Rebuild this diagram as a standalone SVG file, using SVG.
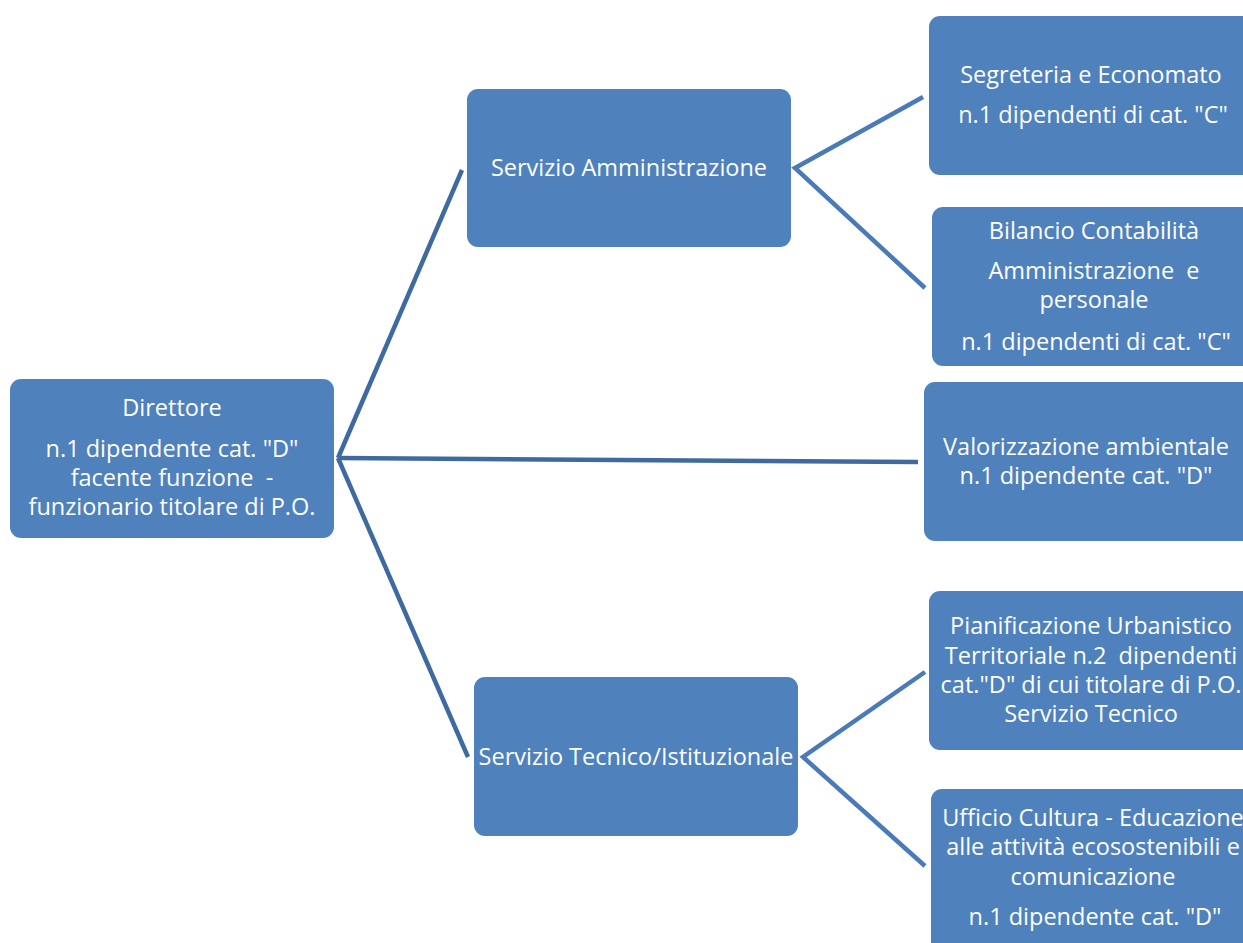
<svg xmlns="http://www.w3.org/2000/svg" width="1243" height="943" viewBox="0 0 1243 943">
<style>
.box{fill:#4f81bd;}
.t{font-family:"Open Sans","Liberation Sans",sans-serif;font-size:23.5px;fill:#ffffff;text-anchor:middle;}
.c1{stroke:#3f6a9f;stroke-width:4.5;fill:none;}
.c2{stroke:#4a7ab7;stroke-width:4.5;fill:none;}
</style>
<rect width="1243" height="943" fill="#ffffff"/>
<g id="connectors">
<line class="c1" x1="338" y1="458" x2="462" y2="170"/>
<line class="c1" x1="338" y1="458" x2="918" y2="462"/>
<line class="c1" x1="338" y1="458" x2="468" y2="757"/>
<polyline class="c2" points="923,97 795,168 925,288"/>
<polyline class="c2" points="925,672 803,757 925,866"/>
</g>
<g id="direttore">
<rect class="box" x="10" y="379" width="324" height="159" rx="11"/>
<text class="t" x="172" y="416">Direttore</text>
<text class="t" x="172" y="457">n.1 dipendente cat. "D"</text>
<text class="t" x="172" y="486" xml:space="preserve">facente funzione  -</text>
<text class="t" x="172" y="515">funzionario titolare di P.O.</text>
</g>
<g id="amministrazione">
<rect class="box" x="467" y="89" width="324" height="158" rx="11"/>
<text class="t" x="629" y="176">Servizio Amministrazione</text>
</g>
<g id="tecnico">
<rect class="box" x="474" y="677" width="324" height="159" rx="11"/>
<text class="t" x="636" y="765">Servizio Tecnico/Istituzionale</text>
</g>
<g id="segreteria">
<rect class="box" x="929" y="16" width="330" height="159" rx="11"/>
<text class="t" x="1091" y="83">Segreteria e Economato</text>
<text class="t" x="1093" y="123">n.1 dipendenti di cat. "C"</text>
</g>
<g id="bilancio">
<rect class="box" x="932" y="207" width="330" height="159" rx="11"/>
<text class="t" x="1094" y="239">Bilancio Contabilità</text>
<text class="t" x="1094" y="279" xml:space="preserve">Amministrazione  e</text>
<text class="t" x="1094" y="308">personale</text>
<text class="t" x="1096" y="350">n.1 dipendenti di cat. "C"</text>
</g>
<g id="valorizzazione">
<rect class="box" x="924" y="382" width="330" height="159" rx="11"/>
<text class="t" x="1086" y="455">Valorizzazione ambientale</text>
<text class="t" x="1086" y="484">n.1 dipendente cat. "D"</text>
</g>
<g id="pianificazione">
<rect class="box" x="929" y="591" width="330" height="159" rx="11"/>
<text class="t" x="1091" y="634">Pianificazione Urbanistico</text>
<text class="t" x="1091" y="664" xml:space="preserve">Territoriale n.2  dipendenti</text>
<text class="t" x="1091" y="693">cat."D" di cui titolare di P.O.</text>
<text class="t" x="1091" y="722">Servizio Tecnico</text>
</g>
<g id="cultura">
<rect class="box" x="931" y="789" width="330" height="170" rx="11"/>
<text class="t" x="1093" y="826">Ufficio Cultura - Educazione</text>
<text class="t" x="1093" y="855">alle attività ecosostenibili e</text>
<text class="t" x="1093" y="885">comunicazione</text>
<text class="t" x="1095" y="925">n.1 dipendente cat. "D"</text>
</g>
</svg>
